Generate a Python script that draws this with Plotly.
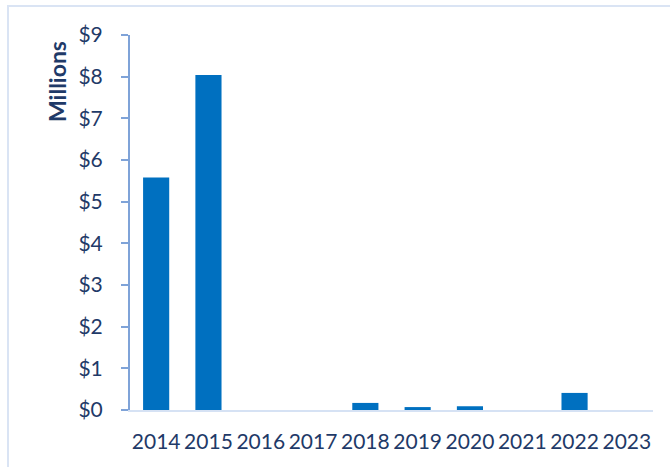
import plotly.graph_objects as go

years = ["2014", "2015", "2016", "2017", "2018", "2019", "2020", "2021", "2022", "2023"]
values_millions = [5.58, 8.04, 0, 0, 0.17, 0.07, 0.09, 0, 0.41, 0]
y_tickvals = [0, 1, 2, 3, 4, 5, 6, 7, 8, 9]
y_ticktext = ["$0", "$1", "$2", "$3", "$4", "$5", "$6", "$7", "$8", "$9"]

W, H = 670, 467
L, R, T, B = 130, 17, 35, 57
pw, ph = W - L - R, H - T - B

text_color = "#1F3A68"
font_family = "Lato, 'Open Sans', sans-serif"

fig = go.Figure()
fig.add_trace(go.Bar(
    x=years, y=values_millions,
    marker=dict(color="#0070C0", line=dict(width=0)),
    width=0.5,
    hoverinfo="x+y",
))

fig.update_layout(
    width=W, height=H,
    margin=dict(l=L, r=R, t=T, b=B, pad=0),
    paper_bgcolor="white", plot_bgcolor="white",
    showlegend=False,
    font=dict(family=font_family, color=text_color, size=21),
    xaxis=dict(
        type="category",
        showgrid=False, zeroline=False,
        showline=True, linecolor="#D6E2F4", linewidth=2,
        ticks="", ticklabelstandoff=12,
        tickfont=dict(size=21, color=text_color),
    ),
    yaxis=dict(
        range=[0, 9],
        tickvals=y_tickvals, ticktext=y_ticktext,
        showgrid=False, zeroline=False,
        showline=True, linecolor="#7FA3D8", linewidth=2,
        ticks="outside", ticklen=7, tickwidth=2, tickcolor="#7FA3D8",
        ticklabelstandoff=14,
        tickfont=dict(size=21, color=text_color),
    ),
    shapes=[dict(
        type="rect", xref="paper", yref="paper",
        x0=(8 - L) / pw, x1=(W + 10 - L) / pw,
        y0=(H - B - (H + 10)) / ph, y1=(H - B - 6) / ph,
        line=dict(color="#DAE4F4", width=2), fillcolor="rgba(0,0,0,0)",
        layer="above",
    )],
    annotations=[dict(
        text="<b>Millions</b>", textangle=-90,
        xref="paper", yref="paper",
        x=(57 - L) / pw, y=(H - B - 82) / ph,
        xanchor="center", yanchor="middle", showarrow=False,
        font=dict(size=23, color=text_color, family=font_family),
    )],
)

fig.write_html("out.html", config={"displayModeBar": False},
               post_script="document.body.style.margin='0';")
